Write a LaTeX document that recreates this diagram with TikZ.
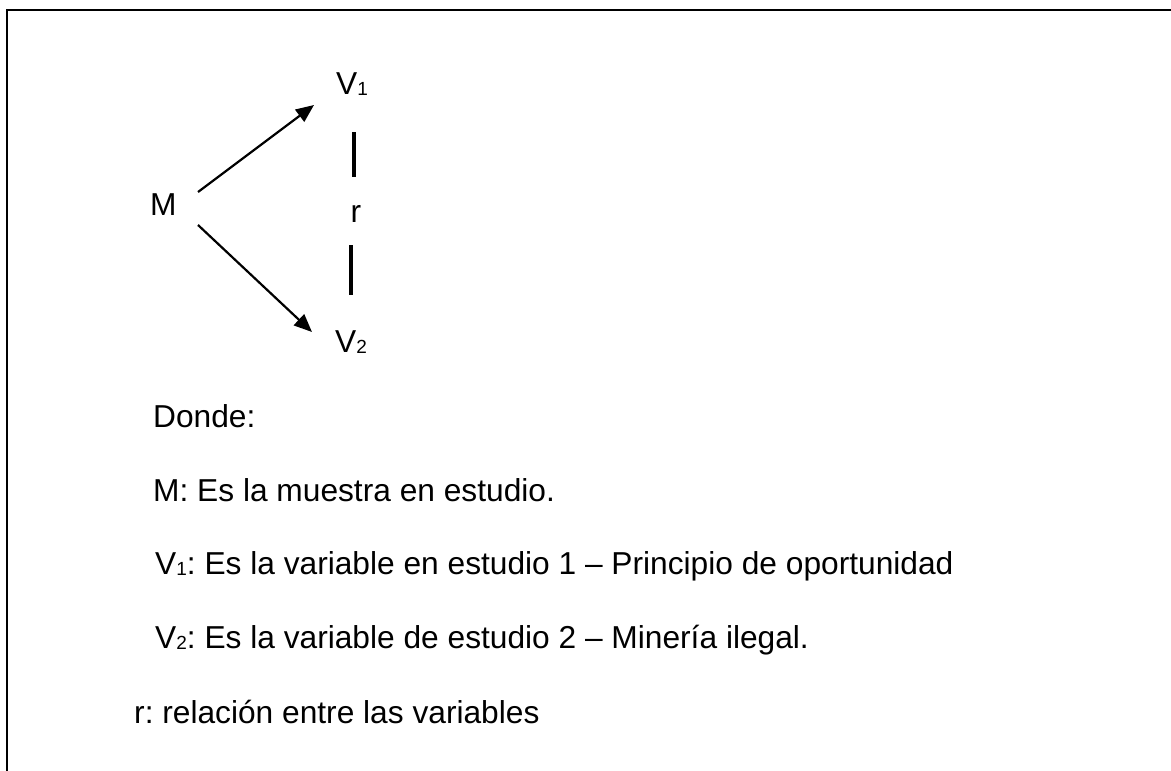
\documentclass[tikz,border=0pt]{standalone}
\usepackage{fontspec}
\setmainfont{Liberation Sans}
\usetikzlibrary{arrows.meta}
\newcommand{\subsc}[1]{\raisebox{-1.5pt}{\fontsize{19}{20}\selectfont #1}}
\begin{document}
\frenchspacing
\begin{tikzpicture}[x=1pt,y=-1pt,
  txt/.style={anchor=base west,inner sep=0pt,font=\fontsize{31.7}{38}\selectfont},
  mid/.style={anchor=base,inner sep=0pt,font=\fontsize{31.7}{38}\selectfont},
  arr/.style={line width=2.2pt,-{Triangle[length=18pt,width=15pt]}},
  bar/.style={line width=3.5pt},
  frame/.style={line width=2pt}]
\useasboundingbox (0,0) rectangle (1171,771);
\draw[frame] (7,771) -- (7,10) -- (1171,10);
% diagram
\node[txt] (M) at (150,215) {M};
\node[txt] (V1) at (336,94) {V\subsc{1}};
\node[txt] (V2) at (335,352) {V\subsc{2}};
\node[mid] (r) at (356,222) {r};
\coordinate (a1s) at (198,192);
\coordinate (a1e) at (314,105);
\coordinate (a2s) at (198,225);
\coordinate (a2e) at (312,332);
\draw[arr] (a1s) -- (a1e);
\draw[arr] (a2s) -- (a2e);
\coordinate (b1s) at (354,132);
\coordinate (b1e) at (354,177);
\coordinate (b2s) at (351,245);
\coordinate (b2e) at (351,295);
\draw[bar] (b1s) -- (b1e);
\draw[bar] (b2s) -- (b2e);
% legend
\node[txt] (l0) at (153,427) {Donde:};
\node[txt] (l1) at (153,501) {M: Es la muestra en estudio.};
\node[txt] (l2) at (155,574) {V\subsc{1}: Es la variable en estudio 1 -- Principio de oportunidad};
\node[txt] (l3) at (155,648) {V\subsc{2}: Es la variable de estudio 2 -- Minería ilegal.};
\node[txt] (l4) at (134,723) {r: relación entre las variables};
\end{tikzpicture}
\end{document}
